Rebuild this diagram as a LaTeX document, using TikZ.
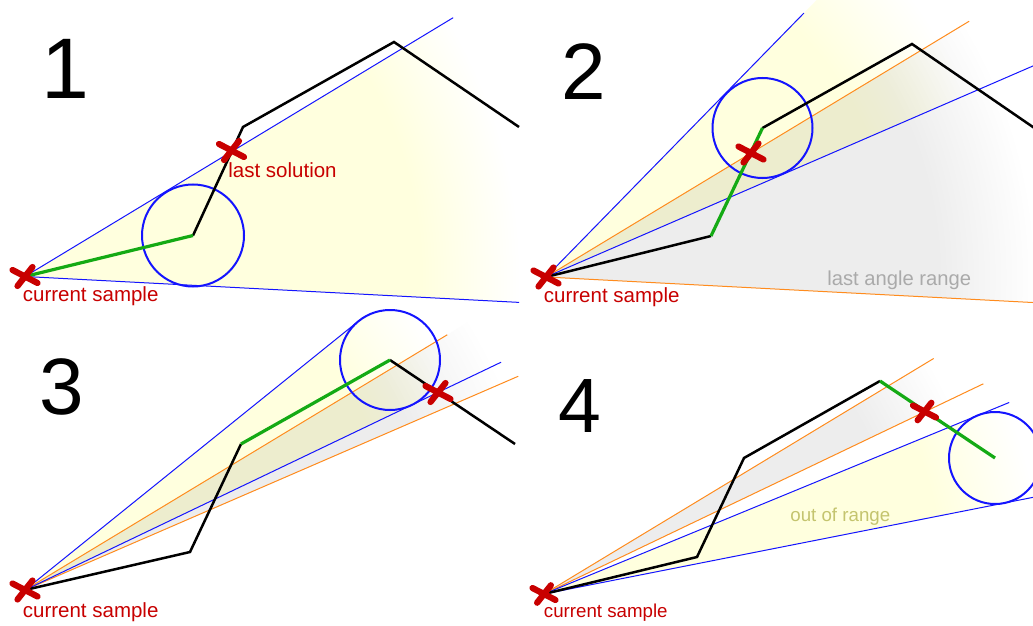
\documentclass[tikz,border=0pt]{standalone}
\usepackage{fontspec}
\setmainfont{Liberation Sans}
\usetikzlibrary{calc}

\definecolor{rangeyellow}{RGB}{255,255,222}
\definecolor{rangegray}{RGB}{237,237,237}
\definecolor{rayblue}{RGB}{20,20,255}
\definecolor{rayorange}{RGB}{255,140,30}
\definecolor{pathgreen}{RGB}{20,170,20}
\definecolor{markred}{RGB}{200,0,0}
\definecolor{notegray}{RGB}{170,170,170}
\definecolor{noteolive}{RGB}{196,196,110}

% radial fades used at natural size: solid to 80% of the radius, then out to white
\pgfdeclareradialshading{fadeOneY}{\pgfpoint{0pt}{0pt}}{color(0pt)=(rangeyellow); color(198pt)=(rangeyellow); color(247.5pt)=(white)}
\pgfdeclareradialshading{fadeTwoG}{\pgfpoint{0pt}{0pt}}{color(0pt)=(rangegray); color(196pt)=(rangegray); color(245pt)=(white)}
\pgfdeclareradialshading{fadeTwoY}{\pgfpoint{0pt}{0pt}}{color(0pt)=(rangeyellow); color(176pt)=(rangeyellow); color(230pt)=(white)}
\pgfdeclareradialshading{fadeThreeG}{\pgfpoint{0pt}{0pt}}{color(0pt)=(rangegray); color(208pt)=(rangegray); color(260pt)=(white)}
\pgfdeclareradialshading{fadeThreeY}{\pgfpoint{0pt}{0pt}}{color(0pt)=(rangeyellow); color(190pt)=(rangeyellow); color(238pt)=(white)}
\pgfdeclareradialshading{fadeFourG}{\pgfpoint{0pt}{0pt}}{color(0pt)=(rangegray); color(180pt)=(rangegray); color(225pt)=(white)}
\pgfdeclareradialshading{fadeFourY}{\pgfpoint{0pt}{0pt}}{color(0pt)=(rangeyellow); color(200pt)=(rangeyellow); color(250pt)=(white)}

% place a fade centred on a named point
\newcommand\fadeat[2]{\pgftext[at={\pgfpointanchor{#1}{center}}]{\pgfuseshading{#2}}}

\tikzset{
  ray/.style={rayblue, line width=0.5pt},
  oldray/.style={rayorange, line width=0.5pt},
  reach/.style={draw=rayblue, line width=1pt, circle, inner sep=0pt, outer sep=0pt},
  curve/.style={black, line width=1.25pt},
  solved/.style={pathgreen, line width=1.6pt},
  crossbar/.style={markred, line width=3.1pt, line cap=round},
  redcross/.pic={
    \draw[crossbar] (-12.5,-6.5) -- (12.5,6.5);
    \draw[crossbar] (-7.5,9.5) -- (7.5,-9.5);
  },
  tag/.style={anchor=base west, inner sep=0pt, text=markred, font=\fontsize{10.25pt}{12pt}\selectfont},
  smalltag/.style={tag, font=\fontsize{9.35pt}{11pt}\selectfont},
  note/.style={anchor=base west, inner sep=0pt, font=\fontsize{10.1pt}{12pt}\selectfont},
  numeral/.style={anchor=base west, inner sep=0pt, font=\fontsize{40pt}{46pt}\selectfont},
}

\begin{document}
\begin{tikzpicture}[x=0.5pt,y=-0.5pt]
\useasboundingbox (0,0) rectangle (1033,626);
\fill[white] (0,0) rectangle (1033,626);

% ---------- points of the four steps ----------
% step 1
\coordinate (a1) at (25,276.5);
\coordinate (p1b) at (193,235.5);
\coordinate (p1c) at (243,127);
\coordinate (p1d) at (394,42);
\coordinate (p1e) at (519,127);
\coordinate (s1) at (231.5,150.5);
\coordinate (u1) at ($(a1)+(-31.15:500.3)$);
\coordinate (l1) at ($(a1)+(3.0:494.7)$);
% step 2
\coordinate (a2) at (546,277);
\coordinate (p2b) at (711,236);
\coordinate (p2c) at (762.5,128);
\coordinate (p2d) at (912,44);
\coordinate (p2e) at (1038,130.5);
\coordinate (s2) at (751,153);
\coordinate (u2) at ($(a2)+(-45.66:369)$);
\coordinate (l2) at ($(a2)+(-23.43:545)$);
\coordinate (ou2) at ($(a2)+(-31.15:494.4)$);
\coordinate (ol2) at ($(a2)+(3.0:500)$);
% step 3
\coordinate (a3) at (25,590);
\coordinate (p3b) at (190,552);
\coordinate (p3c) at (241,444);
\coordinate (p3d) at (390,360);
\coordinate (p3e) at (515,444);
\coordinate (s3) at (438,392.5);
\coordinate (u3) at ($(a3)+(-38.88:428.5)$);
\coordinate (l3) at ($(a3)+(-25.57:527.8)$);
\coordinate (ou3) at ($(a3)+(-31.15:493.4)$);
\coordinate (ol3) at ($(a3)+(-23.43:537.6)$);
% step 4
\coordinate (a4) at (544,594);
\coordinate (p4b) at (697,557);
\coordinate (p4c) at (744,458);
\coordinate (p4d) at (880,381);
\coordinate (p4e) at (995,458);
\coordinate (s4) at (924.5,411.5);
\coordinate (t4) at ($(a4)+(-22.38:468.8)$);
\coordinate (u4) at ($(a4)+(-22.38:503.1)$);
\coordinate (l4) at ($(a4)+(-11.18:510)$);
\coordinate (ou4) at ($(a4)+(-31.15:455.3)$);
\coordinate (ol4) at ($(a4)+(-25.57:487.1)$);

% ---------- angle ranges, fading out with distance ----------
\begin{scope}[blend mode=multiply]
  \begin{scope}
    \clip (a1) -- ($(a1)+(-31.15:700)$) -- ($(a1)+(3.0:700)$) -- cycle;
    \fadeat{a1}{fadeOneY}
  \end{scope}
  \begin{scope}
    \clip (a2) -- ($(a2)+(-31.15:700)$) -- ($(a2)+(3.0:700)$) -- cycle;
    \fadeat{a2}{fadeTwoG}
  \end{scope}
  \begin{scope}
    \clip (a2) -- ($(a2)+(-45.66:700)$) -- ($(a2)+(-23.43:700)$) -- cycle;
    \fadeat{a2}{fadeTwoY}
  \end{scope}
  \begin{scope}
    \clip (a3) -- ($(a3)+(-31.15:700)$) -- ($(a3)+(-23.43:700)$) -- cycle;
    \fadeat{a3}{fadeThreeG}
  \end{scope}
  \begin{scope}
    \clip (a3) -- (u3) arc[start angle=-128.88, end angle=64.43, radius=50] -- cycle;
    \fadeat{a3}{fadeThreeY}
  \end{scope}
  \begin{scope}
    \clip (a4) -- ($(a4)+(-31.15:700)$) -- ($(a4)+(-25.57:700)$) -- cycle;
    \fadeat{a4}{fadeFourG}
  \end{scope}
  \begin{scope}
    \clip (a4) -- (t4) arc[start angle=-112.38, end angle=78.82, radius=46] -- cycle;
    \fadeat{a4}{fadeFourY}
  \end{scope}
\end{scope}

% ---------- range notes ----------
\node[note, text=notegray] (n2) at (827,285) {last angle range};
\node[note, text=noteolive, font=\fontsize{9.35pt}{11pt}\selectfont] (n4) at (790,521.5) {out of range};

% ---------- rays ----------
\draw[ray] (a1) -- (u1);
\draw[ray] (a1) -- (l1);
\draw[oldray] (a2) -- (ou2);
\draw[oldray] (a2) -- (ol2);
\draw[ray] (a2) -- (u2);
\draw[ray] (a2) -- (l2);
\draw[oldray] (a3) -- (ou3);
\draw[oldray] (a3) -- (ol3);
\draw[ray] (a3) -- (u3);
\draw[ray] (a3) -- (l3);
\draw[oldray] (a4) -- (ou4);
\draw[oldray] (a4) -- (ol4);
\draw[ray] (a4) -- (u4);
\draw[ray] (a4) -- (l4);

% ---------- reach circles ----------
\node[reach, minimum size=51pt] (c1) at (p1b) {};
\node[reach, minimum size=50pt] (c2) at (p2c) {};
\node[reach, minimum size=50pt] (c3) at (p3d) {};
\node[reach, minimum size=46pt] (c4) at (p4e) {};

% ---------- sampled path ----------
\draw[curve] (p1b) -- (p1c) -- (p1d) -- (p1e);
\draw[solved] (a1) -- (p1b);

\draw[curve] (a2) -- (p2b);
\draw[curve] (p2c) -- (p2d) -- (p2e);
\draw[solved] (p2b) -- (p2c);

\draw[curve] (a3) -- (p3b) -- (p3c);
\draw[curve] (p3d) -- (p3e);
\draw[solved] (p3c) -- (p3d);

\draw[curve] (a4) -- (p4b) -- (p4c) -- (p4d);
\draw[solved] (p4d) -- (p4e);

% ---------- markers ----------
\pic at (a1) {redcross};
\pic at (s1) {redcross};
\pic at (a2) {redcross};
\pic at (s2) {redcross};
\pic at (a3) {redcross};
\pic at (s3) {redcross};
\pic[scale=0.92] at (a4) {redcross};
\pic[scale=0.92] at (s4) {redcross};

% ---------- labels ----------
\node[tag] (cs1) at (22.5,301) {current sample};
\node[tag] (ls1) at (228,177) {last solution};
\node[tag] (cs2) at (543.5,302) {current sample};
\node[tag] (cs3) at (22.5,617) {current sample};
\node[smalltag] (cs4) at (543.5,617) {current sample};

\node[numeral, font=\fontsize{43pt}{48pt}\selectfont] (k1) at (41,98) {1};
\node[numeral] (k2) at (561.5,100) {2};
\node[numeral] (k3) at (39.5,414.5) {3};
\node[numeral, font=\fontsize{38.5pt}{44pt}\selectfont] (k4) at (558,432) {4};
\end{tikzpicture}
\end{document}
